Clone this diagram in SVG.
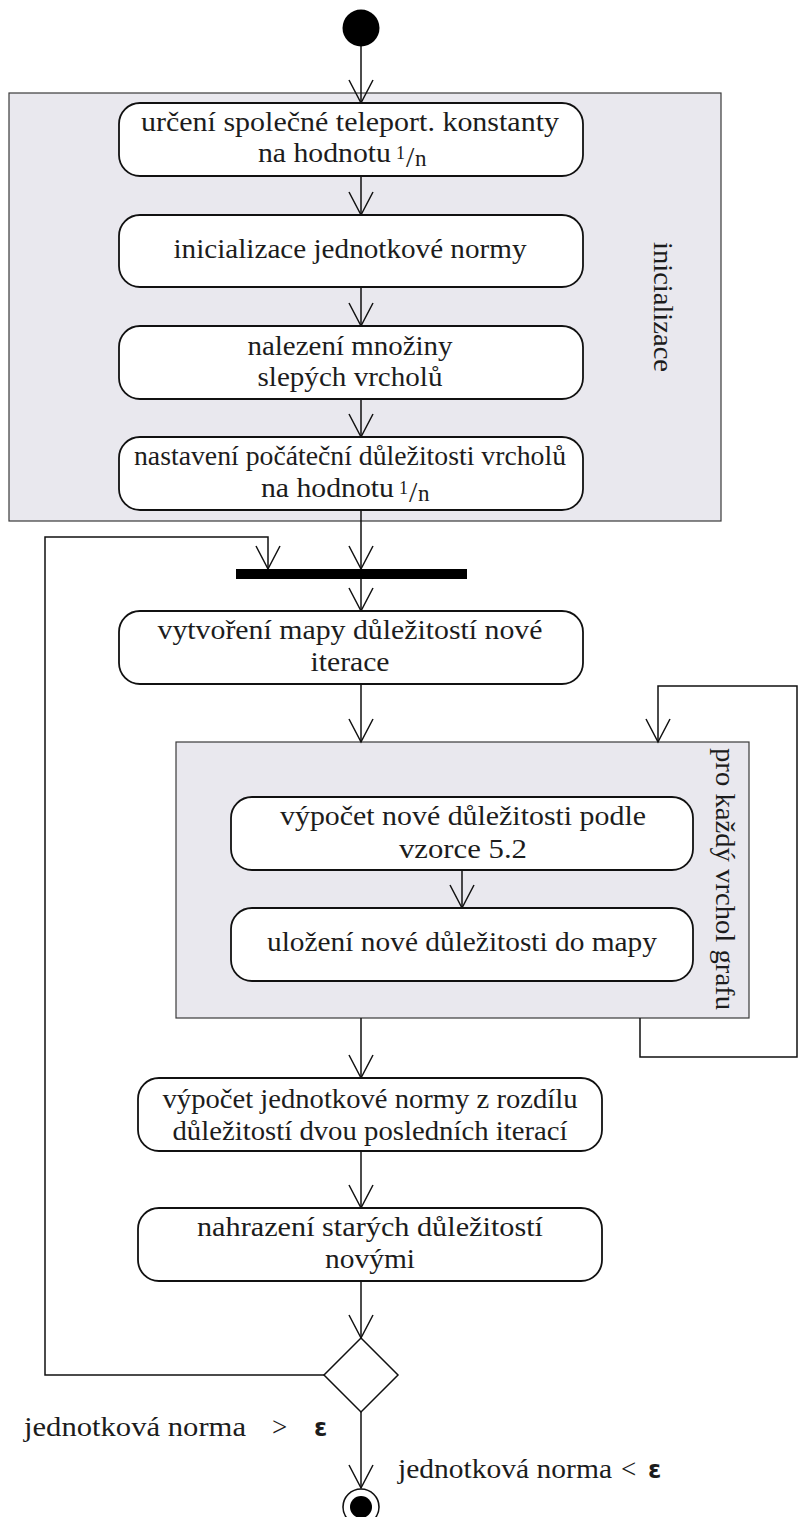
<svg xmlns="http://www.w3.org/2000/svg" width="798" height="1517" viewBox="0 0 798 1517">
  <style>
    .bg { fill: #ffffff; }
    .region { fill: #e9e8ee; stroke: #3a3a3a; stroke-width: 1.2; }
    .action { fill: #ffffff; stroke: #111111; stroke-width: 1.8; }
    .flow { fill: none; stroke: #111111; stroke-width: 1.5; }
    .lbl { font-family: "Liberation Serif", serif; font-size: 27px; fill: #1c1c1c; }
    .c { text-anchor: middle; }
    .sup { font-size: 18px; }
    .slash { font-size: 30px; }
    .sub { font-size: 23px; }
    .eps { font-family: "DejaVu Sans", sans-serif; font-size: 24px; font-weight: bold; }
  </style>
  <defs>
    <marker id="open" markerUnits="userSpaceOnUse" markerWidth="28" markerHeight="30" refX="24" refY="14" orient="auto">
      <path d="M1,2 L24,14 L1,26" fill="none" stroke="#111111" stroke-width="1.5"/>
    </marker>
  </defs>

  <rect class="bg" x="0" y="0" width="798" height="1517"/>

  <!-- initialisation region -->
  <g id="region-init">
    <rect class="region" x="9" y="93" width="712" height="428"/>
    <text class="lbl c" transform="translate(654,307) rotate(90)" textLength="130" lengthAdjust="spacingAndGlyphs">inicializace</text>
  </g>

  <!-- per-vertex loop region -->
  <g id="region-loop">
    <rect class="region" x="176" y="742" width="573" height="276"/>
    <text class="lbl c" transform="translate(716,879) rotate(90)" textLength="262" lengthAdjust="spacingAndGlyphs">pro každý vrchol grafu</text>
  </g>

  <!-- connectors -->
  <g id="connectors">
    <line class="flow" x1="361" y1="46" x2="361" y2="103" marker-end="url(#open)"/>
    <line class="flow" x1="361" y1="176" x2="361" y2="215" marker-end="url(#open)"/>
    <line class="flow" x1="361" y1="287" x2="361" y2="326" marker-end="url(#open)"/>
    <line class="flow" x1="361" y1="399" x2="361" y2="437" marker-end="url(#open)"/>
    <line class="flow" x1="361" y1="510" x2="361" y2="569" marker-end="url(#open)"/>
    <line class="flow" x1="361" y1="579" x2="361" y2="611" marker-end="url(#open)"/>
    <line class="flow" x1="361" y1="684" x2="361" y2="742" marker-end="url(#open)"/>
    <line class="flow" x1="462" y1="870" x2="462" y2="908" marker-end="url(#open)"/>
    <path class="flow" d="M640,1018 L640,1057 L797,1057 L797,686 L658,686 L658,742" marker-end="url(#open)"/>
    <line class="flow" x1="361" y1="1018" x2="361" y2="1078" marker-end="url(#open)"/>
    <line class="flow" x1="361" y1="1151" x2="361" y2="1208" marker-end="url(#open)"/>
    <line class="flow" x1="361" y1="1281" x2="361" y2="1338" marker-end="url(#open)"/>
    <path class="flow" d="M324,1375 L45,1375 L45,537 L268,537 L268,569" marker-end="url(#open)"/>
    <line class="flow" x1="361" y1="1412" x2="361" y2="1488" marker-end="url(#open)"/>
  </g>

  <!-- start -->
  <g id="start">
    <circle cx="361" cy="28" r="18.5" fill="#000000"/>
  </g>

  <g id="teleport-const">
    <rect class="action" x="119" y="103" width="464" height="73" rx="21"/>
    <text class="lbl c" x="350" y="131" textLength="418" lengthAdjust="spacingAndGlyphs">určení společné teleport. konstanty</text>
    <text class="lbl" y="162"><tspan x="258" textLength="133" lengthAdjust="spacingAndGlyphs">na hodnotu</tspan> <tspan class="sup" x="396" y="159">1</tspan><tspan class="slash" x="406" y="167">/</tspan><tspan class="sub" x="415" y="166">n</tspan></text>
  </g>

  <g id="norm-init">
    <rect class="action" x="119" y="215" width="464" height="72" rx="21"/>
    <text class="lbl c" x="350" y="258" textLength="353" lengthAdjust="spacingAndGlyphs">inicializace jednotkové normy</text>
  </g>

  <g id="dead-ends">
    <rect class="action" x="119" y="326" width="464" height="73" rx="21"/>
    <text class="lbl c" x="350" y="355" textLength="205" lengthAdjust="spacingAndGlyphs">nalezení množiny</text>
    <text class="lbl c" x="350" y="386" textLength="185" lengthAdjust="spacingAndGlyphs">slepých vrcholů</text>
  </g>

  <g id="initial-rank">
    <rect class="action" x="119" y="437" width="464" height="73" rx="21"/>
    <text class="lbl c" x="350" y="465" textLength="432" lengthAdjust="spacingAndGlyphs">nastavení počáteční důležitosti vrcholů</text>
    <text class="lbl" y="497"><tspan x="261" textLength="133" lengthAdjust="spacingAndGlyphs">na hodnotu</tspan> <tspan class="sup" x="399" y="494">1</tspan><tspan class="slash" x="409" y="502">/</tspan><tspan class="sub" x="418" y="501">n</tspan></text>
  </g>

  <!-- join bar -->
  <g id="join">
    <rect x="236" y="569" width="231" height="10" fill="#000000"/>
  </g>

  <g id="new-map">
    <rect class="action" x="119" y="611" width="464" height="73" rx="21"/>
    <text class="lbl c" x="350" y="639" textLength="385" lengthAdjust="spacingAndGlyphs">vytvoření mapy důležitostí nové</text>
    <text class="lbl c" x="350" y="671" textLength="79" lengthAdjust="spacingAndGlyphs">iterace</text>
  </g>

  <g id="compute-rank">
    <rect class="action" x="231" y="797" width="462" height="73" rx="21"/>
    <text class="lbl c" x="463" y="825" textLength="366" lengthAdjust="spacingAndGlyphs">výpočet nové důležitosti podle</text>
    <text class="lbl c" x="463" y="858" textLength="128" lengthAdjust="spacingAndGlyphs">vzorce 5.2</text>
  </g>

  <g id="store-rank">
    <rect class="action" x="231" y="908" width="462" height="73" rx="21"/>
    <text class="lbl c" x="462" y="951" textLength="390" lengthAdjust="spacingAndGlyphs">uložení nové důležitosti do mapy</text>
  </g>

  <g id="norm-diff">
    <rect class="action" x="138" y="1078" width="464" height="73" rx="21"/>
    <text class="lbl c" x="370" y="1108" textLength="415" lengthAdjust="spacingAndGlyphs">výpočet jednotkové normy z rozdílu</text>
    <text class="lbl c" x="370" y="1140" textLength="395" lengthAdjust="spacingAndGlyphs">důležitostí dvou posledních iterací</text>
  </g>

  <g id="replace">
    <rect class="action" x="138" y="1208" width="464" height="73" rx="21"/>
    <text class="lbl c" x="370" y="1236" textLength="346" lengthAdjust="spacingAndGlyphs">nahrazení starých důležitostí</text>
    <text class="lbl c" x="370" y="1268" textLength="90" lengthAdjust="spacingAndGlyphs">novými</text>
  </g>

  <!-- decision -->
  <g id="decision">
    <path d="M361,1338 L398,1375 L361,1412 L324,1375 Z" fill="#ffffff" stroke="#111111" stroke-width="1.5"/>
    <text class="lbl" y="1436"><tspan x="24" textLength="222" lengthAdjust="spacingAndGlyphs">jednotková norma</tspan> <tspan x="272">&gt;</tspan> <tspan class="eps" x="314">ε</tspan></text>
    <text class="lbl" y="1478"><tspan x="398" textLength="214" lengthAdjust="spacingAndGlyphs">jednotková norma</tspan> <tspan x="621">&lt;</tspan> <tspan class="eps" x="648">ε</tspan></text>
  </g>

  <!-- end -->
  <g id="end">
    <circle cx="361" cy="1507" r="18" fill="#ffffff" stroke="#111111" stroke-width="1.6"/>
    <circle cx="361" cy="1507" r="11" fill="#000000"/>
  </g>
</svg>
